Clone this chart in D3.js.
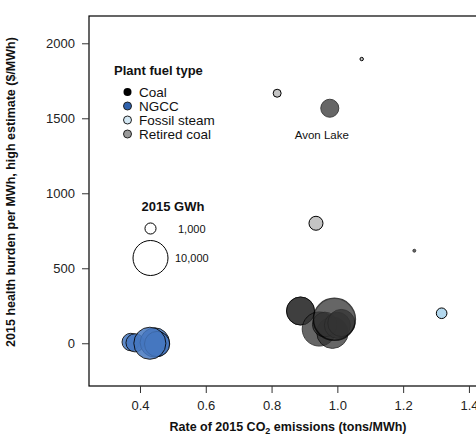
<!DOCTYPE html>
<html>
<head>
<meta charset="utf-8">
<script src="https://cdn.jsdelivr.net/npm/d3@7"></script>
<style>
  html, body { margin: 0; padding: 0; background: #fff; }
  svg { display: block; font-family: "Liberation Sans", Arial, Helvetica, sans-serif; }
</style>
</head>
<body>
<svg id="chart" width="476" height="441"></svg>
<script>
// ---- data ----
const plantNames = ["NGCC a","NGCC b","NGCC c","NGCC d","NGCC e",
  "Coal a1","Coal a2","Coal b","Coal c","Coal d","Coal e","Coal f","Coal big",
  "Avon Lake","Coal tiny","Fossil steam","Retired a","Retired b","Retired tiny"];
const plantType = ["NGCC","NGCC","NGCC","NGCC","NGCC",
  "Coal","Coal","Coal","Coal","Coal","Coal","Coal","Coal",
  "Coal","Coal","Fossil steam","Retired coal","Retired coal","Retired coal"];
const plantX = [0.372,0.385,0.445,0.452,0.43,
  0.888,0.888,0.945,0.985,0.962,1.0,1.012,0.991,
  0.977,1.234,1.317,0.817,0.935,1.074];
const plantY = [8,3,5,-5,0,
  215,215,95,70,125,120,135,160,
  1567,617,200,1667,800,1895];
const plantGWh = [2500,2700,7000,5200,8400,
  6400,6400,9500,8000,5000,5500,6000,14400,
  2650,70,920,520,1600,95];
const labelText = ["Avon Lake"];
const fuelTypes = ["Coal","NGCC","Fossil steam","Retired coal"];
const sizeLegend = [1000, 10000];
const sizeLegendLabels = ["1,000","10,000"];
const xTicks = [0.4,0.6,0.8,1.0,1.2,1.4];
const yTicks = [0,500,1000,1500,2000];

// ---- layout ----
const svg = d3.select("#chart");
const mLeft = 89, mTop = 16, mBottom = 386, mRight = 489;
const x = d3.scaleLinear().domain([0.245, 1.461]).range([mLeft, mRight]);
const y = d3.scaleLinear().domain([-285, 2182]).range([mBottom, mTop]);
const r = d3.scaleSqrt().domain([0, 10000]).range([0, 17.5]);

const fillC = d3.scaleOrdinal().domain(fuelTypes).range(["#333333","#4577c0","#b3d8ee","#c4c4c4"]);
const opC = d3.scaleOrdinal().domain(fuelTypes).range([0.75,0.85,1,1]);
const legFill = d3.scaleOrdinal().domain(fuelTypes).range(["#000000","#2f62ad","#d4e8f4","#9a9a9a"]);

// frame
svg.append("rect").attr("x", mLeft).attr("y", mTop)
  .attr("width", mRight - mLeft).attr("height", mBottom - mTop)
  .attr("fill", "none").attr("stroke", "#000").attr("stroke-width", 1.2);

// axes
const xAxis = svg.append("g").attr("transform", `translate(0,${mBottom})`)
  .call(d3.axisBottom(x).tickValues(xTicks).tickFormat(d3.format(".1f")).tickSize(7).tickPadding(8));
const yAxis = svg.append("g").attr("transform", `translate(${mLeft},0)`)
  .call(d3.axisLeft(y).tickValues(yTicks).tickFormat(d3.format("d")).tickSize(7).tickPadding(7));
[xAxis, yAxis].forEach(a => {
  a.select(".domain").remove();
  a.selectAll("text").attr("font-size", 13).attr("fill", "#222")
    .attr("font-family", "Liberation Sans, Arial, sans-serif");
  a.selectAll("line").attr("stroke", "#333");
});

// axis titles
const xt = svg.append("text").attr("x", 288).attr("y", 431).attr("text-anchor", "middle")
  .attr("font-size", 12.5).attr("font-weight", "bold").attr("fill", "#111");
xt.append("tspan").text("Rate of 2015 CO");
xt.append("tspan").text("2").attr("font-size", 9).attr("dy", 3);
xt.append("tspan").text(" emissions (tons/MWh)").attr("dy", -3);

svg.append("text").attr("transform", "translate(15,192) rotate(-90)")
  .attr("text-anchor", "middle").attr("font-size", 12.5).attr("font-weight", "bold")
  .attr("fill", "#111").text("2015 health burden per MWh, high estimate ($/MWh)");

// points
const pts = d3.range(plantX.length);
const g = svg.append("g");
g.selectAll("circle").data(pts).join("circle")
  .attr("cx", i => x(plantX[i])).attr("cy", i => y(plantY[i]))
  .attr("r", i => Math.max(1.4, r(plantGWh[i])))
  .attr("fill", i => fillC(plantType[i]))
  .attr("opacity", i => opC(plantType[i]))
  .attr("stroke", "#000")
  .attr("stroke-width", i => plantGWh[i] > 10000 ? 1.5 : 1);

// Avon Lake label
const ai = plantNames.indexOf("Avon Lake");
svg.append("text").attr("x", x(plantX[ai]) - 8).attr("y", y(plantY[ai]) + 31)
  .attr("text-anchor", "middle").attr("font-size", 11.5).attr("fill", "#111").text(labelText[0]);

// fuel legend
svg.append("text").attr("x", 114).attr("y", 75).attr("font-size", 13).attr("font-weight", "bold")
  .attr("fill", "#111").text("Plant fuel type");
fuelTypes.forEach((f, i) => {
  const cy = 92 + i * 14;
  svg.append("circle").attr("cx", 127.5).attr("cy", cy).attr("r", 4)
    .attr("fill", legFill(f)).attr("stroke", f === "Coal" ? "none" : "#222").attr("stroke-width", 1);
  svg.append("text").attr("x", 139).attr("y", cy + 5).attr("font-size", 13.5).attr("fill", "#111").text(f);
});

// size legend
svg.append("text").attr("x", 173).attr("y", 211).attr("text-anchor", "middle")
  .attr("font-size", 13).attr("font-weight", "bold").attr("fill", "#111").text("2015 GWh");
sizeLegend.forEach((v, i) => {
  const cy = i === 0 ? 228.5 : 258;
  svg.append("circle").attr("cx", 150.5).attr("cy", cy).attr("r", r(v))
    .attr("fill", "#fff").attr("stroke", "#000").attr("stroke-width", 1);
  svg.append("text").attr("x", i === 0 ? 178 : 175).attr("y", cy + 4).attr("font-size", 11)
    .attr("fill", "#111").text(sizeLegendLabels[i]);
});
</script>
</body>
</html>
